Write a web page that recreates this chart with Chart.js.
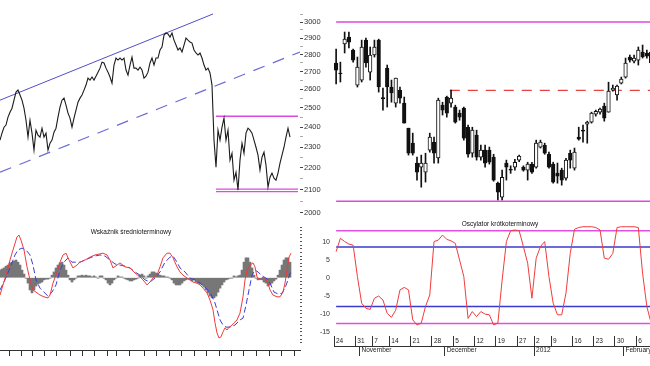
<!DOCTYPE html>
<html>
<head>
<meta charset="utf-8">
<script src="https://cdn.jsdelivr.net/npm/chart.js@4.4.1/dist/chart.umd.min.js"></script>
<style>
  html, body { margin: 0; padding: 0; background: #fff; width: 650px; height: 366px; overflow: hidden; position: relative; }
  canvas { position: absolute; }
</style>
</head>
<body>
<canvas id="price" width="330" height="220" style="left:0;top:0"></canvas>
<canvas id="macd" width="330" height="146" style="left:0;top:220px"></canvas>
<canvas id="candles" width="332" height="220" style="left:334px;top:0"></canvas>
<canvas id="osc" width="332" height="156" style="left:334px;top:210px"></canvas>
<script>
// ---- left panel: long-term close line (day index -> close)
const priceLine = [
  2334, 2369, 2399, 2410, 2451, 2477, 2498, 2541, 2585, 2596,
  2569, 2541, 2498, 2435, 2349, 2435, 2369, 2285, 2384, 2359,
  2349, 2394, 2349, 2369, 2285, 2319, 2334, 2374, 2394, 2451,
  2504, 2541, 2552, 2514, 2472, 2446, 2399, 2446, 2488, 2530,
  2552, 2569, 2596, 2624, 2663, 2652, 2669, 2652, 2674, 2697,
  2720, 2755, 2750, 2720, 2697, 2669, 2635, 2738, 2779, 2767,
  2779, 2767, 2779, 2709, 2680, 2738, 2785, 2720, 2720, 2709,
  2726, 2709, 2663, 2674, 2697, 2750, 2779, 2738, 2779, 2779,
  2827, 2845, 2918, 2931, 2925, 2906, 2931, 2887, 2857, 2827,
  2839, 2815, 2857, 2900, 2887, 2875, 2869, 2827, 2809, 2797,
  2809, 2779, 2738, 2709, 2720, 2692, 2624, 2334, 2204, 2384,
  2334, 2399, 2446, 2334, 2384, 2237, 2270, 2144, 2180, 2099,
  2237, 2319, 2270, 2369, 2394, 2384, 2369, 2334, 2299, 2261,
  2190, 2251, 2275, 2213, 2112, 2157, 2176, 2153, 2144, 2176,
  2223, 2261, 2299, 2349, 2394, 2349
];
const trendUpper = [[0, 2541], [106.5, 3052]];
const trendLower = [[0, 2180], [150, 2815]];
const rangeSpan = [108, 149];
const rangeTop = 2455;
const rangeBottom = [2103, 2092];
const priceTicks = [2000, 2050, 2100, 2150, 2200, 2250, 2300, 2350, 2400, 2450, 2500,
  2550, 2600, 2650, 2700, 2750, 2800, 2850, 2900, 2950, 3000, 3050];

// ---- left lower panel: medium-term indicator
const histogram = [
  2.1, 2.4, 2.7, 3.2, 3.5, 4.1, 4.3, 4.6, 4.9, 4.3,
  3.5, 2.1, 1.0, -0.1, -1.5, -3.4, -4.2, -3.4, -2.3, -1.7,
  -1.5, -1.2, -0.6, -0.4, -0.4, -0.1, 0.7, 1.6, 2.7, 3.5,
  4.1, 4.3, 3.5, 2.1, 0.7, -0.6, -1.2, -0.6, -0.1, 0.5,
  0.5, 0.7, 0.5, 0.7, 0.5, 0.5, 0.2, 0.5, 0.2, -0.1,
  0.5, 0.5, -0.1, -0.6, -1.5, -2.0, -1.5, -0.6, -0.1, 0.5,
  0.2, 0.2, -0.1, -0.4, -0.6, -0.9, -0.9, -0.6, -0.4, -0.1,
  0.7, 1.0, 0.5, -0.1, 0.5, 1.0, 1.6, 1.6, 1.3, 1.0,
  0.7, 0.5, 0.5, 0.2, 0.2, -0.1, -0.6, -1.5, -2.0, -2.0,
  -2.0, -1.5, -0.9, -0.6, -0.4, -0.6, -0.9, -0.6, -1.2, -1.5,
  -1.7, -2.0, -2.6, -3.4, -4.2, -5.1, -5.6, -5.6, -5.1, -4.0,
  -2.9, -2.0, -1.2, -0.6, -0.4, -0.1, -0.1, 0.5, 0.2, 0.5,
  0.7, 2.1, 4.3, 5.5, 5.5, 4.3, 2.7, 0.7, -0.1, -0.6,
  -0.4, -0.6, -1.2, -1.5, -2.3, -2.0, -1.5, -0.9, -0.4, 0.7,
  2.1, 3.5, 4.9, 5.5, 5.5, 4.3
];
const macdLine = [[0,-4.8],[1.5,-2.0],[3.5,1.6],[5,4.9],[6.5,7.7],[8.5,11.3],[9.5,11.8],[10.5,10.4],[12,7.7],[13.5,3.0],
  [15,-0.6],[16.5,-3.4],[18.5,-4.2],[20,-4.8],[22,-5.3],[24,-5.6],[25,-4.8],[26.5,-1.5],[28.5,1.6],[30,4.3],
  [31.5,6.3],[33,6.8],[34.5,4.9],[36.5,2.7],[38.5,3.5],[40,4.3],[42.5,4.9],[45,5.7],[47.5,6.3],[50,6.6],
  [51.5,6.8],[53.5,6.3],[55,4.9],[56.5,2.7],[58.5,3.5],[60,4.1],[62.5,3.0],[65,2.7],[67.5,1.3],[70,0.2],
  [71.5,-0.6],[73.5,-2.0],[75,-1.2],[76.5,-0.1],[78.5,0.7],[80,3.0],[81.5,5.5],[83.5,6.8],[85,6.8],[86.5,5.5],
  [88.5,3.0],[90,1.6],[91.5,0.7],[93.5,-0.1],[95,-0.6],[96.5,-1.2],[98.5,-1.5],[100,-2.0],[101.5,-2.9],[103.5,-4.2],
  [105,-6.2],[106.5,-8.9],[107.5,-12.5],[108.5,-15.3],[109.5,-16.7],[110.5,-16.4],[111.5,-15.0],[112.5,-13.9],[113.5,-14.5],[114.5,-13.7],
  [115.5,-13.4],[117,-12.5],[118.5,-11.7],[120,-9.8],[121.5,-5.3],[122.5,-0.6],[123.5,2.1],[125,3.5],[126.5,4.1],[127.5,3.0],
  [128.5,0.2],[130,-0.6],[131.5,0.2],[132.5,-0.1],[134,-1.5],[135,-3.4],[136.5,-4.8],[138.5,-5.3],[140,-5.3],[141.5,-4.0],
  [142.5,-1.5],[143.5,2.1],[144.5,5.7],[145.5,6.8]];
const signalLine = [[0,-3.4],[2.5,-0.6],[5,2.7],[7.5,6.3],[9,7.7],[11,8.2],[13,7.7],[15,6.3],[16.5,3.5],[18,-0.6],
  [20,-2.9],[22,-4.0],[24,-5.1],[26,-4.0],[28,-2.0],[30,2.1],[32,4.3],[34,5.5],[36,4.3],[38,4.3],
  [40,4.3],[42.5,4.9],[45,5.5],[47.5,6.0],[50,6.3],[52.5,6.0],[55,4.9],[57.5,3.8],[60,3.5],[62.5,3.2],
  [65,2.7],[67.5,1.6],[70,0.7],[72.5,-0.6],[75,-1.2],[77.5,-0.1],[80,1.6],[82.5,4.3],[85,5.7],[86.5,6.0],
  [88.5,4.3],[90,2.7],[92.5,1.6],[95,-0.1],[97.5,-0.6],[100,-1.5],[102.5,-2.6],[105,-4.0],[107.5,-7.0],[110,-11.7],
  [111.5,-13.1],[113,-13.7],[115,-13.7],[117.5,-13.1],[120,-11.7],[121.5,-11.2],[123,-7.6],[124.5,-3.4],[126,0.7],[127.5,2.1],
  [129,1.6],[131,0.5],[133,-0.1],[135,-1.5],[137,-4.0],[139,-4.5],[141,-4.3],[142.5,-2.9],[144,-0.6],[145.5,2.1]];
const macdTicks = [1.5, 7.5, 13.5, 19, 25, 31.5, 38.5, 43.5, 51, 56.5, 60, 69, 75, 81.5, 87.5, 94,
  100, 106.5, 112.5, 118.5, 125, 131.5, 137.5, 144];
const indicatorTicks = [-18, -17, -16, -15, -14, -13, -12, -11, -10, -9, -8, -7, -6, -5, -4, -3, -2, -1,
  0, 1, 2, 3, 4, 5, 6, 7, 8, 9, 10, 11, 12, 13, 14];

// ---- right panel: daily candles, 24 Oct 2011 onwards
const opens = [2750,2692,2863,2906,2827,2624,2652,2887,2697,2797, 2887,2555,2720,2613,2525,2596,2525,2394,2319,2223,
  2204,2180,2285,2324,2247,2514,2558,2525,2504,2472, 2498,2399,2270,2359,2251,2285,2285,2251,2130,2068,
  2223,2194,2204,2237,2204,2190,2218,2204,2299,2309, 2265,2218,2176,2190,2153,2270,2199,2349,2384,2415,
  2425,2467,2477,2509,2477,2596,2569,2635,2669,2785, 2761,2767,2815,2809,2815];
const highs = [2833,2755,2937,2937,2833,2785,2887,2900,2845,2887, 2893,2607,2738,2652,2663,2613,2558,2394,2369,2251,
  2261,2270,2369,2349,2552,2530,2563,2596,2514,2488, 2504,2410,2399,2384,2310,2310,2300,2265,2135,2190,
  2237,2210,2241,2261,2210,2227,2227,2334,2334,2319, 2275,2227,2223,2199,2246,2285,2295,2399,2410,2430,
  2477,2488,2498,2525,2640,2624,2624,2669,2779,2797, 2797,2845,2857,2827,2833];
const lows = [2630,2641,2809,2839,2755,2613,2641,2726,2652,2785, 2585,2488,2504,2530,2504,2525,2420,2261,2261,2144,
  2112,2135,2275,2223,2223,2462,2451,2504,2420,2435, 2334,2251,2251,2237,2237,2204,2218,2139,2055,2055,
  2144,2175,2190,2230,2185,2144,2175,2199,2295,2265, 2199,2130,2130,2121,2144,2199,2190,2334,2324,2319,
  2420,2456,2467,2430,2477,2590,2541,2630,2663,2755, 2750,2738,2779,2779,2744];
const closes = [2709,2688,2894,2875,2767,2726,2845,2750,2797,2845, 2613,2548,2613,2580,2663,2552,2420,2270,2270,2180,
  2223,2223,2349,2270,2541,2488,2472,2552,2425,2451, 2344,2265,2384,2251,2285,2223,2227,2144,2090,2157,
  2204,2190,2227,2256,2190,2218,2180,2319,2324,2270, 2204,2135,2162,2144,2237,2237,2275,2339,2379,2425,
  2472,2482,2493,2446,2590,2607,2618,2658,2750,2767, 2779,2827,2785,2790,2750];
const bandTop = 3000, bandBottom = 2050;
const resistance = 2595, resistanceFrom = 26.7;

// ---- right lower panel: short-term oscillator
const oscillator = [7.3,11.0,10.1,9.4,9.1,0.4,-7.0,-8.4,-8.7,-5.6,
  -5.0,-6.1,-9.8,-10.9,-8.9,-3.3,-2.6,-3.3,-11.6,-13.0,
  -12.5,-7.9,-4.7,10.1,10.5,11.9,10.7,10.3,9.6,5.0,
  0.4,-11.2,-9.3,-10.7,-9.3,-10.0,-10.2,-13.0,-12.5,-0.6,
  10.1,13.1,13.3,13.1,8.7,4.1,-5.6,5.5,8.7,10.1,
  0.4,-7.0,-10.2,-10.2,-4.2,6.8,13.5,14.0,14.2,14.2,
  14.2,14.0,13.3,5.5,5.2,6.8,14.0,14.2,14.2,14.2,
  14.2,14.0,1.3,-7.9,-12.5];
const oscOuter = [13.1, -12.6];
const oscInner = [8.6, -7.9];
const weekStarts = [0, 5, 9, 13, 18, 23, 28, 33, 38, 43, 47, 51, 56, 61, 66, 71];
const weekLabels = ['24', '31', '7', '14', '21', '28', '5', '12', '19', '27', '2', '9', '16', '23', '30', '6'];
const monthStarts = [6, 26, 47, 68];
const monthLabels = ['November', 'December', '2012', 'February'];

const FONT = "'Liberation Sans', Arial, sans-serif";
Chart.defaults.font.family = FONT;
Chart.defaults.animation = false;
Chart.defaults.plugins.legend.display = false;
Chart.defaults.plugins.tooltip.enabled = false;

function line(pairs, color, width, dash, order) {
  return {
    type: 'line', data: pairs.map(p => ({ x: p[0], y: p[1] })),
    borderColor: color, borderWidth: width, borderDash: dash || [],
    pointRadius: 0, tension: 0, fill: false, order: order || 0
  };
}
function hline(value, from, to, color, width, dash, order) {
  return line([[from, value], [to, value]], color, width, dash, order);
}
function noPad(s) { s.paddingTop = 0; s.paddingBottom = 0; s.paddingLeft = 0; s.paddingRight = 0; }

const panelTitle = {
  id: 'panelTitle',
  afterDraw(chart, args, opts) {
    const { ctx, chartArea, scales } = chart;
    ctx.save();
    ctx.font = '6.5px ' + FONT;
    ctx.fillStyle = '#111';
    ctx.textAlign = 'center';
    ctx.textBaseline = 'middle';
    ctx.fillText(opts.text, scales.x.getPixelForValue(opts.at), chartArea.top + opts.dy);
    ctx.restore();
  }
};

// left upper
new Chart(document.getElementById('price'), {
  type: 'line',
  data: {
    datasets: [
      line(priceLine.map((v, i) => [i, v]), '#1c1c1c', 1.1),
      line(trendUpper, '#4f4fc8', 1, null, 1),
      line(trendLower, '#6b6bd8', 1.2, [12, 9], 1),
      hline(rangeTop, rangeSpan[0], rangeSpan[1], '#dd48dd', 1.5, null, 1),
      hline(rangeBottom[0], rangeSpan[0], rangeSpan[1], '#dd48dd', 1.3, null, 1),
      hline(rangeBottom[1], rangeSpan[0], rangeSpan[1], '#dd48dd', 1.3, null, 1)
    ]
  },
  options: {
    responsive: false,
    layout: { padding: 0 },
    scales: {
      x: { type: 'linear', display: false, min: 0, max: 150, offset: false },
      y: {
        type: 'logarithmic', position: 'right', min: 1969.6, max: 3144,
        afterBuildTicks: s => { s.ticks = priceTicks.map(v => ({ value: v })); },
        afterFit: s => { s.width = 30; noPad(s); },
        border: { display: false },
        grid: { drawOnChartArea: false, tickLength: 3,
          tickColor: c => (c.tick && c.tick.value % 100 === 0) ? '#444' : '#aaa' },
        ticks: { padding: 1, color: '#333', font: { size: 7.5 }, autoSkip: false,
          callback: v => v % 100 === 0 ? String(v) : '' }
      }
    }
  }
});

// left lower
new Chart(document.getElementById('macd'), {
  type: 'bar',
  data: {
    datasets: [
      { type: 'bar', data: histogram.map((v, i) => ({ x: i, y: v })), backgroundColor: '#777',
        barPercentage: 1, categoryPercentage: 1, grouped: false, order: 3 },
      line(signalLine, '#3d3dd6', 1, [6, 3], 2),
      line(macdLine, '#ee3b3b', 1, null, 1)
    ]
  },
  options: {
    responsive: false,
    layout: { padding: { top: 5 } },
    scales: {
      x: {
        type: 'linear', min: 0, max: 150, offset: false,
        afterBuildTicks: s => { s.ticks = macdTicks.map(v => ({ value: v })); },
        afterFit: s => { s.height = 16; noPad(s); },
        border: { display: true, color: '#333', dash: [6, 6.5], dashOffset: 9.5 },
        grid: { drawOnChartArea: false, tickLength: 6, tickColor: '#333' },
        ticks: { display: false }
      },
      y: {
        type: 'linear', position: 'right', min: -20.03, max: 14.6,
        afterBuildTicks: s => { s.ticks = indicatorTicks.map(v => ({ value: v })); },
        afterFit: s => { s.width = 30; noPad(s); },
        border: { display: false },
        grid: { drawOnChartArea: false, tickLength: 2, tickColor: '#555' },
        ticks: { padding: 8, crossAlign: 'far', color: '#333', font: { size: 7 }, autoSkip: false,
          callback: v => v % 5 === 0 ? String(v) : '' }
      }
    },
    plugins: { panelTitle: { text: 'Wskaźnik średnioterminowy', at: 65.5, dy: 7 } }
  },
  plugins: [panelTitle]
});

// right upper: candles as floating bars
new Chart(document.getElementById('candles'), {
  type: 'bar',
  data: {
    datasets: [
      { type: 'bar', data: lows.map((l, i) => ({ x: i, y: [l, highs[i]] })), backgroundColor: '#111',
        barPercentage: 1, categoryPercentage: 1, maxBarThickness: 1, grouped: false, order: 2 },
      { type: 'bar', data: opens.map((o, i) => ({ x: i, y: [o, closes[i]] })),
        backgroundColor: c => closes[c.dataIndex] >= opens[c.dataIndex] ? '#fff' : '#111',
        borderColor: '#111', borderWidth: 1, borderSkipped: false,
        barPercentage: 1, categoryPercentage: 1, maxBarThickness: 3.6, grouped: false, order: 1 },
      hline(bandTop, 0, 77.5, '#dd48dd', 1.5, null, 5),
      hline(bandBottom, 0, 77.5, '#dd48dd', 1.5, null, 5),
      hline(resistance, resistanceFrom, 77.5, '#e84040', 1.2, [10, 8], 5)
    ]
  },
  options: {
    responsive: false,
    layout: { padding: 0 },
    scales: {
      x: { type: 'linear', display: false, min: -0.5, max: 77.5, offset: false },
      y: { type: 'logarithmic', display: false, min: 1969.6, max: 3144 }
    }
  }
});

// right lower
new Chart(document.getElementById('osc'), {
  type: 'line',
  data: {
    datasets: [
      line(oscillator.map((v, i) => [i, v]), '#f03c3c', 1),
      hline(oscOuter[0], 0, 77.5, '#e050e0', 1.5, null, 2),
      hline(oscOuter[1], 0, 77.5, '#e050e0', 1.5, null, 2),
      hline(oscInner[0], 0, 77.5, '#3a3ad0', 1.5, null, 2),
      hline(oscInner[1], 0, 77.5, '#3a3ad0', 1.5, null, 2)
    ]
  },
  options: {
    responsive: false,
    layout: { padding: { bottom: 8 } },
    scales: {
      x: {
        type: 'linear', position: 'bottom', weight: 0, min: -0.5, max: 77.5, offset: false,
        afterBuildTicks: s => { s.ticks = weekStarts.map(i => ({ value: i - 0.5 })); },
        afterFit: s => { s.height = 10; noPad(s); },
        border: { display: false },
        grid: { drawOnChartArea: false, tickLength: 10, tickColor: '#333' },
        ticks: { align: 'start', labelOffset: 2, padding: -8.4, maxRotation: 0, autoSkip: false,
          color: '#222', font: { size: 6.5 }, callback: (v, idx) => weekLabels[idx] }
      },
      x2: {
        type: 'linear', position: 'bottom', weight: 1, min: -0.5, max: 77.5, offset: false,
        afterBuildTicks: s => { s.ticks = monthStarts.map(i => ({ value: i - 0.5 })); },
        afterFit: s => { s.height = 12; noPad(s); },
        border: { display: true, color: '#333', width: 1 },
        grid: { drawOnChartArea: false, tickLength: 10, tickColor: '#333' },
        ticks: { align: 'start', labelOffset: 2, padding: -9.4, maxRotation: 0, autoSkip: false,
          color: '#222', font: { size: 6.5 }, callback: (v, idx) => monthLabels[idx] }
      },
      y: { type: 'linear', display: false, min: -16.07, max: 18.84 }
    },
    plugins: { panelTitle: { text: 'Oscylator krótkoterminowy', at: 38.5, dy: 14 } }
  },
  plugins: [panelTitle]
});
</script>
</body>
</html>
